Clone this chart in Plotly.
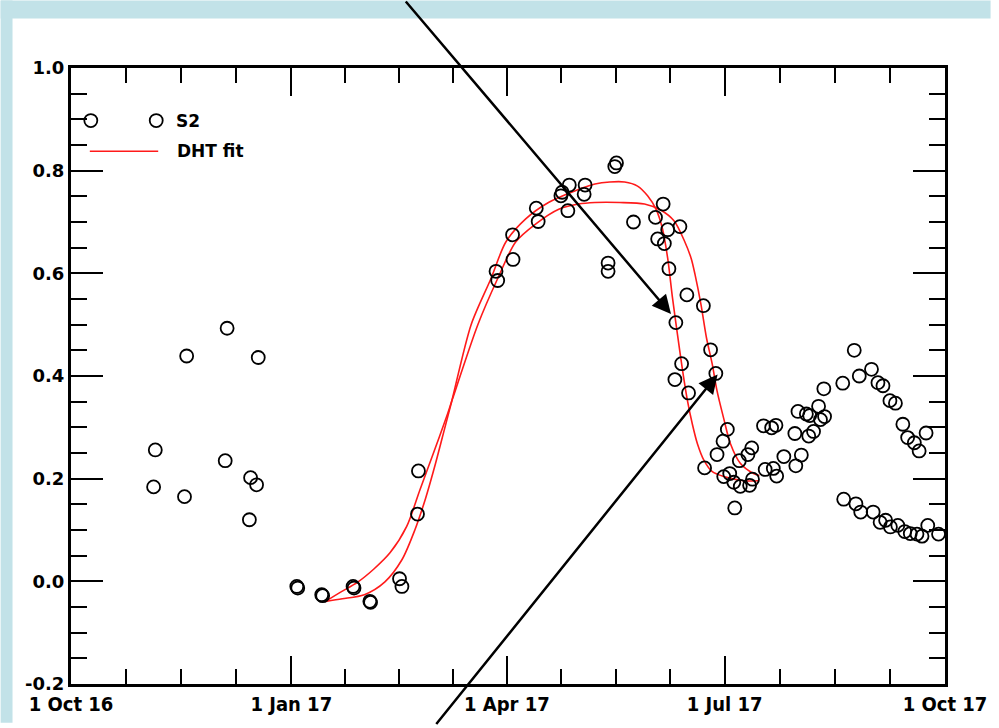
import pandas as pd
import plotly.graph_objects as go

# ---------------- data ----------------
START = pd.Timestamp("2016-10-01")

# S2 observations: days since 1 Oct 2016, value
s2_days = [34.5, 35.2, 47.4, 48.3, 64.4, 65.2, 74.5, 75.0, 77.5, 78.2,
           94.3, 94.7, 104.7, 105.1, 117.8, 118.2, 124.8, 125.1, 137.2, 138.2, 144.7, 145.1,
           177.5, 178.2, 184.6, 184.4, 194.3, 195.1, 204.6, 205.1, 208.1, 207.5, 214.7, 214.3,
           227.8, 227.1, 224.3, 224.3, 234.9,
           247.3, 244.1, 249.2, 254.3, 245.0, 247.8, 249.7, 257.2, 264.1, 252.6, 267.1, 255.0,
           252.2, 269.3, 257.9,
           274.1, 272.3, 269.8, 264.6, 272.6, 275.1, 276.8, 279.5, 283.4, 284.6, 279.1, 282.7,
           284.3, 277.2,
           289.2, 292.6, 294.4, 289.9, 293.3, 294.7, 297.7, 302.7, 305.0, 302.3, 303.6, 307.1,
           308.5, 308.1, 310.1, 312.2, 314.7, 313.0, 314.4,
           322.3, 327.1, 329.2, 334.3, 337.0, 339.1, 342.0, 344.3, 347.4, 349.4, 352.2, 354.2, 357.1,
           322.7, 327.8, 329.8, 335.0, 337.9, 340.2, 342.2, 345.3, 348.2, 350.5, 353.3, 355.4,
           357.8, 362.3]
s2_vals = [0.184, 0.256, 0.165, 0.439, 0.235, 0.493, 0.120, 0.202, 0.188, 0.436,
           -0.010, -0.013, -0.026, -0.028, -0.010, -0.013, -0.039, -0.041, 0.005, -0.010, 0.131, 0.215,
           0.604, 0.586, 0.627, 0.675, 0.727, 0.701, 0.751, 0.758, 0.772, 0.722, 0.772, 0.754,
           0.815, 0.808, 0.620, 0.604, 0.700,
           0.735, 0.709, 0.685, 0.691, 0.667, 0.658, 0.609, 0.558, 0.537, 0.504, 0.451, 0.424,
           0.393, 0.405, 0.367,
           0.296, 0.273, 0.247, 0.221, 0.204, 0.210, 0.193, 0.185, 0.187, 0.199, 0.235, 0.247,
           0.260, 0.143,
           0.303, 0.299, 0.304, 0.218, 0.220, 0.205, 0.243, 0.225, 0.246, 0.288, 0.331, 0.326,
           0.323, 0.283, 0.292, 0.341, 0.321, 0.315, 0.375,
           0.386, 0.450, 0.400, 0.413, 0.387, 0.381, 0.352, 0.347, 0.306, 0.280, 0.270, 0.254, 0.289,
           0.160, 0.151, 0.135, 0.135, 0.115, 0.119, 0.106, 0.109, 0.097, 0.093, 0.092, 0.088,
           0.109, 0.092]

# DHT fit 1 (higher peak, earlier senescence)
fit1_days = [106.3, 113.3, 122.5, 131.1, 138.2, 143.6, 148.1, 152.2, 156.0, 158.9, 167.1, 175.4,
             181.6, 189.9, 199.4, 210.6, 218.8, 225.0, 231.2, 236.6, 240.8, 244.3, 247.0, 249.2,
             251.2, 253.3, 255.4, 257.4, 259.5, 261.6, 264.3, 267.7, 272.6, 280.9, 287.1]
fit1_vals = [-0.039, -0.034, -0.026, -0.001, 0.042, 0.100, 0.162, 0.229, 0.297, 0.349, 0.500, 0.590,
             0.661, 0.706, 0.738, 0.761, 0.774, 0.778, 0.778, 0.770, 0.751, 0.725, 0.687, 0.629,
             0.552, 0.480, 0.411, 0.353, 0.306, 0.268, 0.236, 0.214, 0.204, 0.196, 0.196]

# DHT fit 2 (flat plateau, later senescence)
fit2_days = [106.3, 112.6, 119.6, 126.5, 133.3, 140.2, 145.7, 151.3, 156.8, 159.3, 169.9, 178.2,
             185.7, 194.0, 203.7, 211.9, 218.8, 229.2, 239.5, 246.4, 251.9, 256.1, 259.0, 260.6,
             263.1, 265.4, 267.8, 269.8, 272.6, 275.4, 279.5, 285.0, 287.5]
fit2_vals = [-0.039, -0.021, -0.002, 0.024, 0.056, 0.107, 0.178, 0.249, 0.320, 0.355, 0.500, 0.590,
             0.661, 0.696, 0.725, 0.735, 0.738, 0.738, 0.735, 0.723, 0.702, 0.664, 0.629, 0.598,
             0.539, 0.474, 0.423, 0.371, 0.317, 0.268, 0.230, 0.210, 0.206]

major_dates = ["2016-10-01", "2017-01-01", "2017-04-01", "2017-07-01", "2017-10-01"]
major_labels = ["1 Oct 16", "1 Jan 17", "1 Apr 17", "1 Jul 17", "1 Oct 17"]
y_ticks = [-0.2, 0.0, 0.2, 0.4, 0.6, 0.8, 1.0]


def to_dates(days):
    return [START + pd.Timedelta(days=d) for d in days]


# minor ticks: each quarter divided in four (IDL style)
md = [pd.Timestamp(d) for d in major_dates]
minor_dates = []
for a, b in zip(md[:-1], md[1:]):
    for k in (1, 2, 3):
        minor_dates.append(a + (b - a) * k / 4)

# ---------------- layout geometry ----------------
W, H = 999, 728
L, R, T, B = 71, 46, 68, 39
PW, PH = W - L - R, H - T - B


def px(x):
    return (x - L) / PW


def py(y):
    return (H - B - y) / PH


RED = "#ff1a1a"
fig = go.Figure()

fig.add_trace(go.Scatter(
    x=to_dates(fit1_days), y=fit1_vals, mode="lines",
    line=dict(color=RED, width=1.6, shape="spline", smoothing=0.8),
    showlegend=False, hoverinfo="skip"))
fig.add_trace(go.Scatter(
    x=to_dates(fit2_days), y=fit2_vals, mode="lines",
    line=dict(color=RED, width=1.6, shape="spline", smoothing=0.8),
    showlegend=False, hoverinfo="skip"))
fig.add_trace(go.Scatter(
    x=to_dates(s2_days), y=s2_vals, mode="markers",
    marker=dict(symbol="circle-open", size=13, color="black", line=dict(width=1.8, color="black")),
    showlegend=False, cliponaxis=False))

BLUE = "#c2e2e8"
shapes = [
    dict(type="rect", xref="paper", yref="paper", x0=px(0), x1=px(12), y0=py(H), y1=py(0),
         fillcolor=BLUE, line=dict(width=0), layer="below"),
    dict(type="rect", xref="paper", yref="paper", x0=px(0), x1=px(W), y0=py(18), y1=py(0),
         fillcolor=BLUE, line=dict(width=0), layer="below"),
    # legend
    dict(type="circle", xref="paper", yref="paper", xsizemode="pixel", ysizemode="pixel",
         xanchor=px(91), yanchor=py(121), x0=-6.5, x1=6.5, y0=-6.5, y1=6.5,
         line=dict(color="black", width=1.8)),
    dict(type="circle", xref="paper", yref="paper", xsizemode="pixel", ysizemode="pixel",
         xanchor=px(157), yanchor=py(121), x0=-6.5, x1=6.5, y0=-6.5, y1=6.5,
         line=dict(color="black", width=1.8)),
    dict(type="line", xref="paper", yref="paper", x0=px(90), x1=px(159), y0=py(152), y1=py(152),
         line=dict(color=RED, width=1.6)),
]

annotations = [
    dict(xref="paper", yref="paper", x=px(175), y=py(121), text="S2", showarrow=False,
         xanchor="left", yanchor="middle", font=dict(family="DejaVu Sans", size=17, color="black", weight="bold")),
    dict(xref="paper", yref="paper", x=px(176), y=py(152), text="DHT fit", showarrow=False,
         xanchor="left", yanchor="middle", font=dict(family="DejaVu Sans", size=17, color="black", weight="bold")),
    # arrows
    dict(xref="paper", yref="paper", x=px(676.5), y=py(316), ax=410 - 676.5, ay=0 - 316,
         axref="pixel", ayref="pixel", text="", showarrow=True, arrowhead=2, arrowsize=1.5,
         arrowwidth=2.5, arrowcolor="black", standoff=0),
    dict(xref="paper", yref="paper", x=px(723.5), y=py(377), ax=441 - 723.5, ay=728 - 377,
         axref="pixel", ayref="pixel", text="", showarrow=True, arrowhead=2, arrowsize=1.5,
         arrowwidth=2.5, arrowcolor="black", standoff=0),
]

fig.update_layout(
    width=W, height=H,
    margin=dict(l=L, r=R, t=T, b=B, pad=0),
    paper_bgcolor="white", plot_bgcolor="white",
    shapes=shapes, annotations=annotations,
    showlegend=False,
    xaxis=dict(
        type="date", range=[major_dates[0], major_dates[-1]],
        tickmode="array", tickvals=major_dates, ticktext=major_labels,
        ticks="inside", ticklen=28, tickwidth=2, tickcolor="black",
        showline=True, linewidth=3, linecolor="black", mirror="ticks",
        showgrid=False, zeroline=False,
        tickfont=dict(family="DejaVu Sans Condensed", size=20, color="black", weight="bold"),
        minor=dict(tickmode="array", tickvals=minor_dates, ticks="inside", ticklen=15,
                   tickwidth=2, tickcolor="black", showgrid=False),
    ),
    yaxis=dict(
        range=[-0.2, 1.0], tickmode="array", tickvals=y_ticks,
        ticktext=[f"{v:.1f}" for v in y_ticks],
        ticks="inside", ticklen=32, tickwidth=2, tickcolor="black",
        showline=True, linewidth=3, linecolor="black", mirror="ticks",
        showgrid=False, zeroline=False,
        tickfont=dict(family="DejaVu Sans", size=18, color="black", weight="bold"),
        minor=dict(dtick=0.05, tick0=0, ticks="inside", ticklen=16, tickwidth=2,
                   tickcolor="black", showgrid=False),
    ),
)

fig.write_html(
    "out.html",
    config={"displayModeBar": False},
    post_script="document.body.style.margin='0px';document.body.style.overflow='hidden';",
)
